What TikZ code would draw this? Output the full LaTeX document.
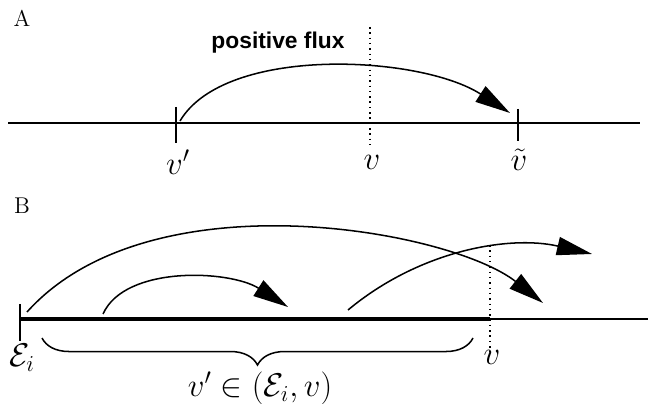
\documentclass[tikz,border=0pt]{standalone}
\usepackage{fontspec}
\newfontfamily\fluxfont{Liberation Sans}
\usetikzlibrary{arrows.meta,decorations.pathreplacing}

\tikzset{
  axisline/.style={line width=1pt},
  tickline/.style={line width=0.8pt},
  guideline/.style={line width=0.8pt, dotted},
  fluxarrow/.style={line width=0.8pt, -{Triangle[length=6.5mm,width=3.4mm]}},
  marklabel/.style={font=\LARGE, inner sep=0pt},
  panellabel/.style={font=\large, inner sep=0pt}
}

\begin{document}
\begin{tikzpicture}[x=0.0185cm, y=-0.0185cm]
    \useasboundingbox (0,0) rectangle (648,404);

    % Panel A: one flux across v
    \node[panellabel] (panA) at (22,18) {A};
    \coordinate (axAl) at (8,123);
    \coordinate (axAr) at (640,123);
    \draw[axisline] (axAl) -- (axAr);

    \coordinate (vp) at (176,123);
    \coordinate (vA) at (370,123);
    \coordinate (vt) at (518,123);
    \draw[tickline] (176,107) -- (176,143);
    \draw[tickline] (518,109) -- (518,141);
    \draw[guideline] (370,27) -- (370,145);

    \node[marklabel] (vplab) at (178,162) {$v'$};
    \node[marklabel] (vAlab) at (372,162) {$v$};
    \node[marklabel] (vtlab) at (519,160) {$\tilde{v}$};

    \node[font=\large\bfseries\fluxfont, inner sep=0pt] (fluxlab) at (278,43) {positive flux};
    \coordinate (fluxAs) at (180,121);
    \coordinate (fluxAe) at (510,113);
    \draw[fluxarrow] (fluxAs) .. controls (225,45) and (420,55) .. (fluxAe);

    % Panel B: fluxes starting in (E_i, v)
    \node[panellabel] (panB) at (22,206) {B};
    \coordinate (Ei) at (20,319);
    \coordinate (vB) at (490,319);
    \coordinate (axBr) at (648,319);
    \draw[line width=1.7pt] (Ei) -- (vB);
    \draw[axisline] (vB) -- (axBr);
    \draw[tickline] (20,304) -- (20,341);
    \draw[guideline] (490,245) -- (490,352);

    \node[marklabel] (Eilab) at (22,358) {$\mathcal{E}_i$};
    \node[marklabel] (vBlab) at (492,357) {$v$};

    % arcs
    \coordinate (bigS) at (27,312);
    \coordinate (bigE) at (543,303);
    \draw[fluxarrow] (bigS) .. controls (150,175) and (450,230) .. (bigE);
    \coordinate (smallS) at (103,314);
    \coordinate (smallE) at (288,307);
    \draw[fluxarrow] (smallS) .. controls (125,265) and (230,270) .. (smallE);
    \coordinate (outS) at (348,310);
    \coordinate (outE) at (592,254);
    \draw[fluxarrow] (outS) .. controls (420,250) and (510,235) .. (outE);

    % brace under the interval
    \coordinate (brL) at (42,338);
    \coordinate (brR) at (473,338);
    \draw[line width=0.8pt, decorate, decoration={brace, mirror, amplitude=0.5cm}] (brL) -- (brR);
    \node[marklabel] (rangelab) at (260,388) {$v' \in (\mathcal{E}_i, v)$};
\end{tikzpicture}
\end{document}
